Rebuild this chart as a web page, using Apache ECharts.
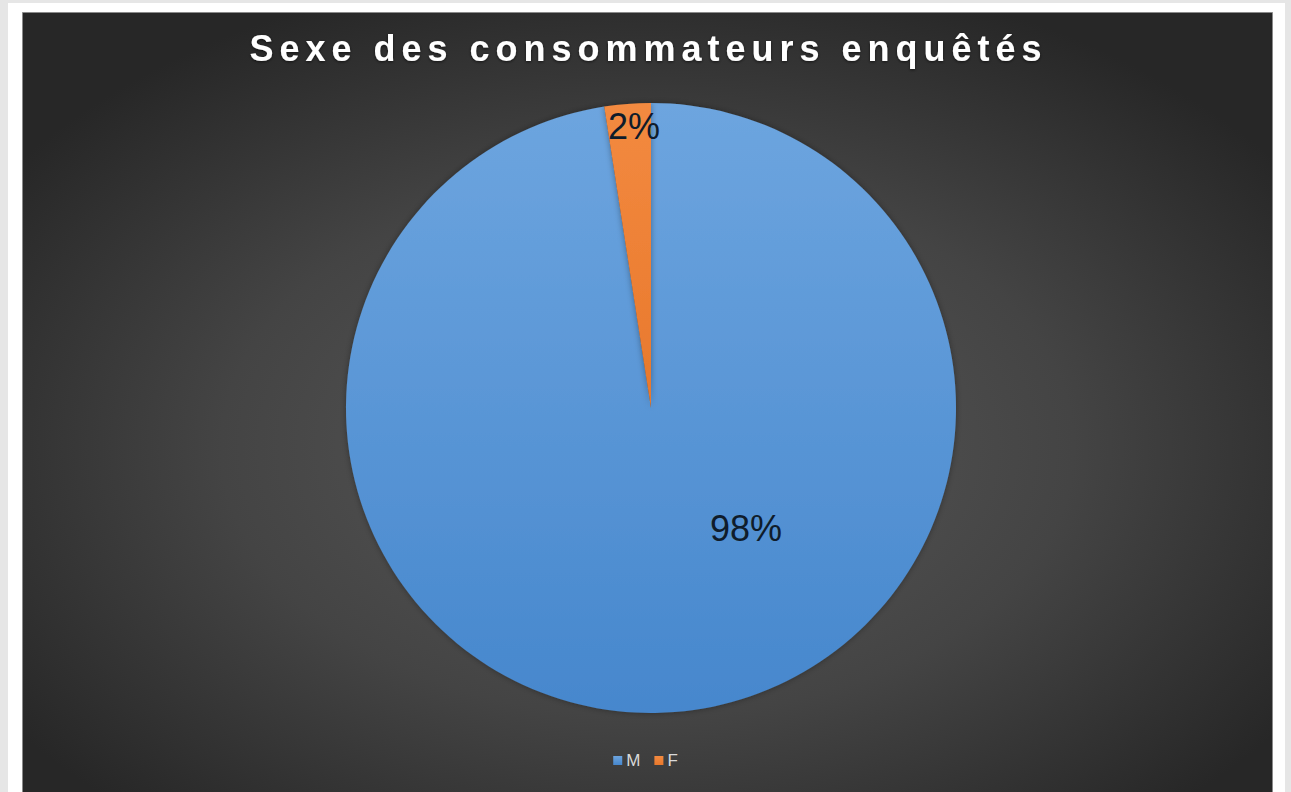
<!DOCTYPE html>
<html>
<head>
<meta charset="utf-8">
<script src="https://cdn.jsdelivr.net/npm/echarts@6/dist/echarts.min.js"></script>
<style>
  html, body { margin: 0; padding: 0; background: #e6e6e6; }
  #chart { width: 1291px; height: 792px; }
</style>
</head>
<body>
<div id="chart"></div>
<script>
const titleText = 'Sexe des consommateurs enquêtés'
const categories = ['M', 'F']
const shares = [97.55, 2.45]
const sliceColors = [
  ['#6da5df', '#4687cd'],
  ['#f38a40', '#e8782c']
]
// where Excel put the labels, relative to ECharts' "inside" spot
const labelOffsets = [[83, -35], [-5, -126]]

const chart = echarts.init(document.getElementById('chart'), null, { renderer: 'svg' })

const pieData = categories.map((name, i) => ({
  name: name,
  value: shares[i],
  itemStyle: {
    color: {
      type: 'linear', x: 0, y: 0, x2: 0, y2: 1,
      colorStops: [
        { offset: 0, color: sliceColors[i][0] },
        { offset: 1, color: sliceColors[i][1] }
      ]
    }
  },
  label: { offset: labelOffsets[i] }
}))

chart.setOption({
  animation: false,
  backgroundColor: '#e6e6e6',
  color: sliceColors.map(c => c[1]),
  graphic: [
    { type: 'rect', z: -10, silent: true, shape: { x: 8, y: 3, width: 1277, height: 800 }, style: { fill: '#ffffff' } },
    {
      type: 'rect', z: -9, silent: true,
      shape: { x: 22.5, y: 12.5, width: 1250, height: 790 },
      style: {
        stroke: '#8a8a8a', lineWidth: 1,
        fill: {
          type: 'radial', x: 0.5, y: 0.55, r: 0.62,
          colorStops: [
            { offset: 0, color: '#5a5a5a' },
            { offset: 0.55, color: '#444444' },
            { offset: 1, color: '#272727' }
          ]
        }
      }
    }
  ],
  title: {
    text: titleText,
    left: 'center',
    top: 25,
    textStyle: {
      color: '#ffffff',
      fontFamily: 'Liberation Sans, Arial, sans-serif',
      fontWeight: 'bold',
      fontSize: 36,
      textShadowColor: 'rgba(0,0,0,0.6)',
      textShadowBlur: 3,
      textShadowOffsetY: 1
    }
  },
  legend: {
    data: categories,
    bottom: 18,
    left: 'center',
    icon: 'rect',
    itemWidth: 9,
    itemHeight: 9,
    itemGap: 14,
    textStyle: { color: '#d9d9d9', fontSize: 17, fontFamily: 'Liberation Sans, Arial, sans-serif', padding: [0, 0, 0, -1] }
  },
  series: [{
    type: 'pie',
    center: [651, 408],
    radius: 305,
    startAngle: 90,
    clockwise: true,
    avoidLabelOverlap: false,
    itemStyle: { borderWidth: 0, shadowColor: 'rgba(0,0,0,0.35)', shadowBlur: 6 },
    label: {
      show: true,
      position: 'inside',
      formatter: p => Math.round(p.value) + '%',
      color: '#0f1c2b',
      fontSize: 36,
      fontFamily: 'Liberation Sans, Arial, sans-serif'
    },
    labelLine: { show: false },
    emphasis: { disabled: true },
    data: pieData
  }]
})

// Excel's title is letter-spaced; zrender has no option for it, so set it on the svg text
document.querySelectorAll('#chart svg text').forEach(t => {
  if (t.textContent === titleText) {
    t.setAttribute('letter-spacing', '6')
    t.setAttribute('dx', '3')
  }
})
</script>
</body>
</html>
